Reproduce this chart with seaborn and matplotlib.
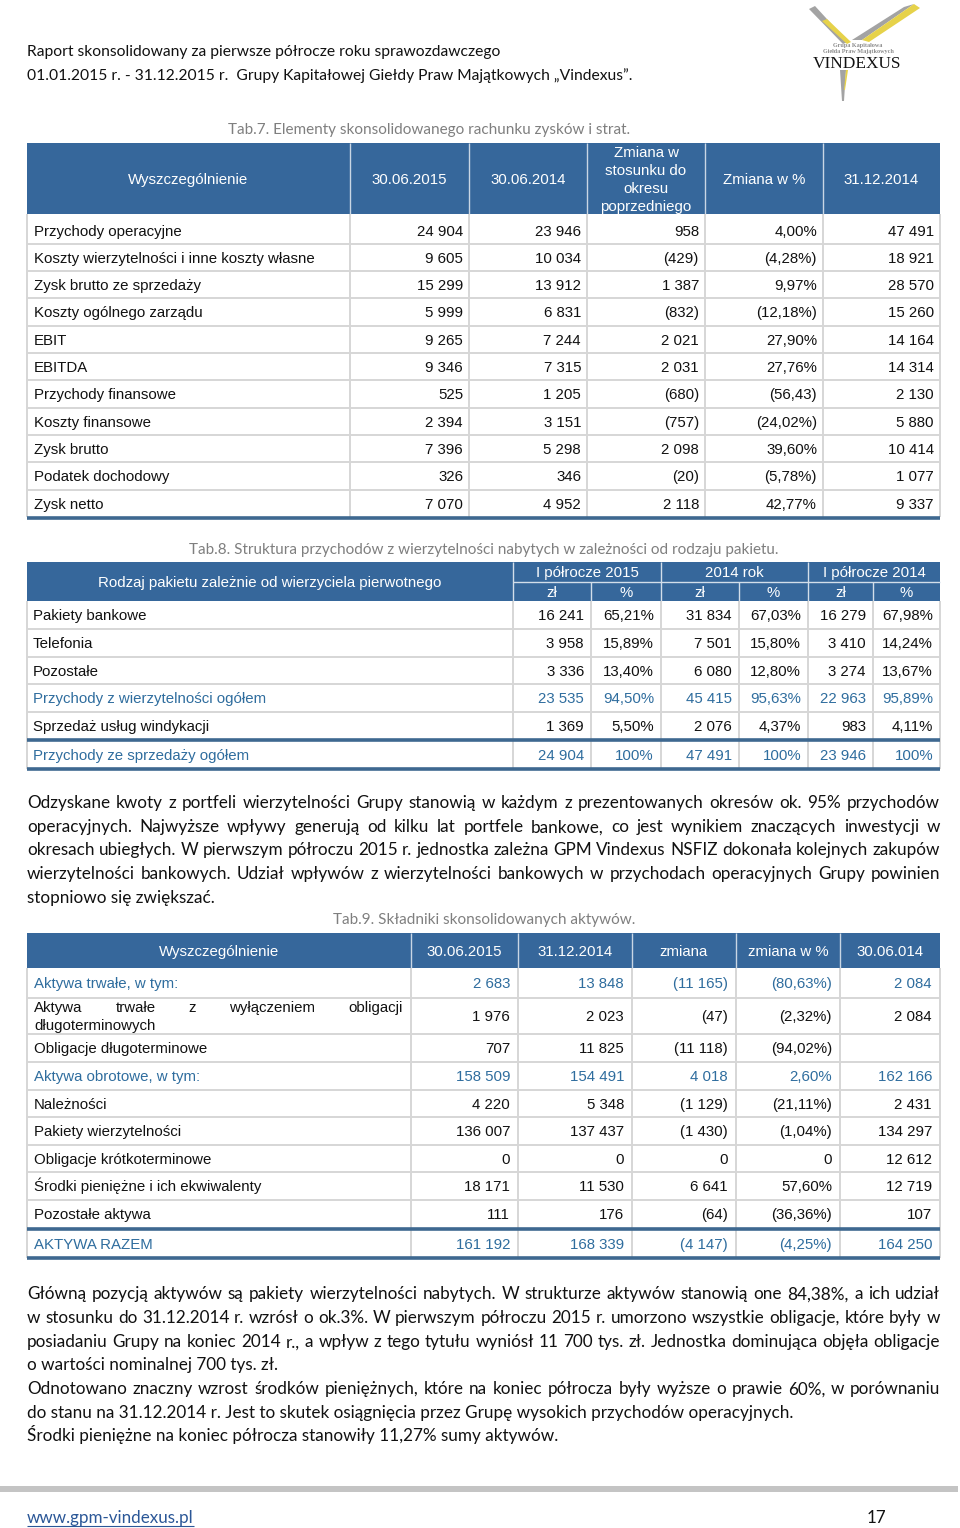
import matplotlib
matplotlib.use("Agg")
import matplotlib.pyplot as plt
import seaborn as sns
from matplotlib.patches import Rectangle, Polygon

sns.set_theme(style="white")
plt.rcParams['font.family'] = ['Liberation Sans', 'DejaVu Sans']

# ---------------- data ----------------
HEADER_LINES = [
    "Raport skonsolidowany za pierwsze półrocze roku sprawozdawczego",
    "01.01.2015 r. - 31.12.2015 r.  Grupy Kapitałowej Giełdy Praw Majątkowych \u201eVindexus\u201d.",
]
LOGO_TEXT = ["Grupa Kapitałowa", "Giełda Praw Majątkowych", "VINDEXUS"]

T7_CAPTION = "Tab.7. Elementy skonsolidowanego rachunku zysków i strat."
T7_HEAD = ["Wyszczególnienie", "30.06.2015", "30.06.2014",
           "Zmiana w\nstosunku do\nokresu\npoprzedniego", "Zmiana w %", "31.12.2014"]
T7_LABELS = ["Przychody operacyjne", "Koszty wierzytelności i inne koszty własne",
             "Zysk brutto ze sprzedaży", "Koszty ogólnego zarządu", "EBIT", "EBITDA",
             "Przychody finansowe", "Koszty finansowe", "Zysk brutto",
             "Podatek dochodowy", "Zysk netto"]
T7_2015 = ["24 904", "9 605", "15 299", "5 999", "9 265", "9 346", "525", "2 394", "7 396", "326", "7 070"]
T7_2014 = ["23 946", "10 034", "13 912", "6 831", "7 244", "7 315", "1 205", "3 151", "5 298", "346", "4 952"]
T7_CHANGE = ["958", "(429)", "1 387", "(832)", "2 021", "2 031", "(680)", "(757)", "2 098", "(20)", "2 118"]
T7_PCT = ["4,00%", "(4,28%)", "9,97%", "(12,18%)", "27,90%", "27,76%", "(56,43)", "(24,02%)",
          "39,60%", "(5,78%)", "42,77%"]
T7_DEC2014 = ["47 491", "18 921", "28 570", "15 260", "14 164", "14 314", "2 130", "5 880",
              "10 414", "1 077", "9 337"]

T8_CAPTION = "Tab.8. Struktura przychodów z wierzytelności nabytych w zależności od rodzaju pakietu."
T8_HEAD = "Rodzaj pakietu zależnie od wierzyciela pierwotnego"
T8_GROUPS = ["I półrocze 2015", "2014 rok", "I półrocze 2014"]
T8_SUB = ["zł", "%"]
T8_LABELS = ["Pakiety bankowe", "Telefonia", "Pozostałe", "Przychody z wierzytelności ogółem",
             "Sprzedaż usług windykacji", "Przychody ze sprzedaży ogółem"]
T8_H1_2015_PLN = ["16 241", "3 958", "3 336", "23 535", "1 369", "24 904"]
T8_H1_2015_PCT = ["65,21%", "15,89%", "13,40%", "94,50%", "5,50%", "100%"]
T8_Y2014_PLN = ["31 834", "7 501", "6 080", "45 415", "2 076", "47 491"]
T8_Y2014_PCT = ["67,03%", "15,80%", "12,80%", "95,63%", "4,37%", "100%"]
T8_H1_2014_PLN = ["16 279", "3 410", "3 274", "22 963", "983", "23 946"]
T8_H1_2014_PCT = ["67,98%", "14,24%", "13,67%", "95,89%", "4,11%", "100%"]
T8_HIGHLIGHT = [False, False, False, True, False, True]

PARA1 = [
    "Odzyskane kwoty  z portfeli wierzytelności Grupy stanowią w każdym z prezentowanych okresów ok. 95% przychodów",
    "operacyjnych. Najwyższe wpływy generują od kilku lat portfele bankowe, co jest wynikiem znaczących inwestycji w",
    "okresach ubiegłych. W pierwszym półroczu 2015 r. jednostka zależna GPM Vindexus NSFIZ dokonała kolejnych zakupów",
    "wierzytelności bankowych. Udział wpływów z wierzytelności bankowych w przychodach operacyjnych Grupy powinien",
    "stopniowo się zwiększać.",
]
PARA1_JUST = [True, True, True, True, False]

T9_CAPTION = "Tab.9. Składniki skonsolidowanych aktywów."
T9_HEAD = ["Wyszczególnienie", "30.06.2015", "31.12.2014", "zmiana", "zmiana w %", "30.06.014"]
T9_LABELS = ["Aktywa trwałe, w tym:", "Aktywa trwałe z wyłączeniem obligacji\ndługoterminowych",
             "Obligacje długoterminowe", "Aktywa obrotowe, w tym:", "Należności",
             "Pakiety wierzytelności", "Obligacje krótkoterminowe", "Środki pieniężne i ich ekwiwalenty",
             "Pozostałe aktywa", "AKTYWA RAZEM"]
T9_JUN2015 = ["2 683", "1 976", "707", "158 509", "4 220", "136 007", "0", "18 171", "111", "161 192"]
T9_DEC2014 = ["13 848", "2 023", "11 825", "154 491", "5 348", "137 437", "0", "11 530", "176", "168 339"]
T9_CHANGE = ["(11 165)", "(47)", "(11 118)", "4 018", "(1 129)", "(1 430)", "0", "6 641", "(64)", "(4 147)"]
T9_PCT = ["(80,63%)", "(2,32%)", "(94,02%)", "2,60%", "(21,11%)", "(1,04%)", "0", "57,60%",
          "(36,36%)", "(4,25%)"]
T9_JUN2014 = ["2 084", "2 084", "", "162 166", "2 431", "134 297", "12 612", "12 719", "107", "164 250"]
T9_HIGHLIGHT = [True, False, False, True, False, False, False, False, False, True]

PARA2 = [
    "Główną pozycją aktywów są pakiety wierzytelności nabytych. W strukturze aktywów stanowią one 84,38%, a ich udział",
    "w stosunku do 31.12.2014 r. wzrósł o ok.3%. W pierwszym półroczu 2015 r. umorzono wszystkie obligacje, które były w",
    "posiadaniu Grupy na koniec 2014 r., a wpływ z tego tytułu wyniósł 11 700 tys. zł. Jednostka dominująca objęła obligacje",
    "o wartości nominalnej 700 tys. zł.",
    "Odnotowano znaczny wzrost środków pieniężnych, które na koniec półrocza były wyższe o prawie 60%, w porównaniu",
    "do stanu na 31.12.2014 r. Jest to skutek osiągnięcia przez Grupę wysokich przychodów operacyjnych.",
    "Środki pieniężne na koniec półrocza stanowiły 11,27% sumy aktywów.",
]
PARA2_JUST = [True, True, True, False, True, False, False]

FOOTER_LINK = "www.gpm-vindexus.pl"
PAGE_NO = "17"

# ---------------- styles ----------------
BLUE_HEAD = "#36679b"
BLUE_TEXT = "#2f6d9e"
GRID = "#d6d6d6"
THICK = "#3e6890"
CAPTION_GRAY = "#7f7f7f"
TEXT = "#111111"
PARA_FONT = ['Lato', 'Liberation Sans', 'DejaVu Sans']
TABLE_FONT = ['Liberation Sans', 'DejaVu Sans']
LOGO_FONT = ['Liberation Serif', 'DejaVu Serif']

fig = plt.figure(figsize=(9.6, 15.28), dpi=100)
ax = fig.add_axes([0, 0, 1, 1])
ax.set_xlim(0, 960)
ax.set_ylim(1528, 0)
ax.axis('off')
renderer = fig.canvas.get_renderer()


def measure(s, family, size):
    t = ax.text(0, 0, s, fontsize=size, family=family)
    w = t.get_window_extent(renderer).width
    t.remove()
    return w


def fit(s, family, target):
    return 10 * target / measure(s, family, 10)


def px(size):
    return size * 100 / 72


def put(x, yc, s, family, size, color=TEXT, ha='left'):
    ax.text(x, yc + 0.36 * px(size), s, fontsize=size, family=family, color=color,
            ha=ha, va='baseline')


def justify(line, yc, x0, x1, family, size, color=TEXT):
    words = line.split()
    ws = [measure(w, family, size) for w in words]
    gap = (x1 - x0 - sum(ws)) / max(len(words) - 1, 1)
    x = x0
    for w, wd in zip(words, ws):
        put(x, yc, w, family, size, color)
        x += wd + gap


def hline(y, x0, x1, color=GRID, lw=1.4):
    ax.plot([x0, x1], [y, y], color=color, lw=lw, solid_capstyle='butt')


def vline(x, y0, y1, color=GRID, lw=1.4):
    ax.plot([x, x], [y0, y1], color=color, lw=lw, solid_capstyle='butt')


# font sizes calibrated on reference widths
S_HEAD = fit(HEADER_LINES[0], PARA_FONT, 475)
S_CAP = fit(T8_CAPTION, PARA_FONT, 589)
S_TAB = fit(T7_LABELS[1], TABLE_FONT, 280)
S_PARA = fit(PARA2[5], PARA_FONT, 765)
S_FOOT = fit(FOOTER_LINK, PARA_FONT, 167)

# ---------------- page header ----------------
for yc, line in zip([50, 74], HEADER_LINES):
    put(27, yc, line, PARA_FONT, S_HEAD)

# logo
ax.add_patch(Polygon([(809, 9), (815, 6), (848, 42), (843, 44)], closed=True, color="#a3a3a3", lw=0))
ax.add_patch(Polygon([(822, 21), (827, 19), (851, 42), (847, 44)], closed=True, color="#e6d24a", lw=0))
ax.add_patch(Polygon([(904, 7), (914, 4), (862, 40), (852, 40)], closed=True, color="#a3a3a3", lw=0))
ax.add_patch(Polygon([(914, 4), (920, 8), (869, 42), (862, 40)], closed=True, color="#e6d24a", lw=0))
ax.add_patch(Polygon([(840, 70), (846, 70), (844, 101), (842, 101)], closed=True, color="#a3a3a3", lw=0))
ax.add_patch(Polygon([(846, 70), (848, 70), (845, 90), (844, 90)], closed=True, color="#e6d24a", lw=0))
ax.text(858, 45, LOGO_TEXT[0], fontsize=4.4, family=LOGO_FONT, color="#8c8c8c",
        ha='center', va='center', fontweight='bold')
ax.text(858, 52, LOGO_TEXT[1], fontsize=4.4, family=LOGO_FONT, color="#8c8c8c",
        ha='center', va='center', fontweight='bold')
ax.text(857, 63.5, LOGO_TEXT[2], fontsize=fit(LOGO_TEXT[2], LOGO_FONT, 88), family=LOGO_FONT,
        color="#111111", ha='center', va='center')

# ---------------- Tab.7 ----------------
put(228, 129, T7_CAPTION, PARA_FONT, fit(T7_CAPTION, PARA_FONT, 402), CAPTION_GRAY)
t7_edges = [27, 350, 469, 587, 705, 823, 940]
t7_top, t7_hbot = 143, 214
ax.add_patch(Rectangle((27, t7_top), 913, t7_hbot - t7_top, color=BLUE_HEAD, lw=0))
for x in t7_edges[1:-1]:
    vline(x, t7_top, t7_hbot, color="#c9d6e4", lw=1.0)
for i, h in enumerate(T7_HEAD):
    xc = (t7_edges[i] + t7_edges[i + 1]) / 2
    lines = h.split("\n")
    n = len(lines)
    for k, ln in enumerate(lines):
        yc = 179 + (k - (n - 1) / 2) * 18
        put(xc, yc, ln, TABLE_FONT, S_TAB, "white", ha='center')

row_h = 27.3
y0 = 216.5
cols7 = [T7_2015, T7_2014, T7_CHANGE, T7_PCT, T7_DEC2014]
for r, lab in enumerate(T7_LABELS):
    top = y0 + r * row_h
    yc = top + row_h / 2
    put(34, yc, lab, TABLE_FONT, S_TAB)
    for c, col in enumerate(cols7):
        put(t7_edges[c + 2] - 6, yc, col[r], TABLE_FONT, S_TAB, ha='right')
    if r > 0:
        hline(top, 27, 940)
t7_bot = y0 + len(T7_LABELS) * row_h
for x in t7_edges:
    vline(x, t7_hbot, t7_bot)
hline(t7_bot + 1, 27, 940, color=THICK, lw=2.6)

# ---------------- Tab.8 ----------------
put(189, 549, T8_CAPTION, PARA_FONT, S_CAP, CAPTION_GRAY)
t8_edges = [27, 513, 591, 661, 739, 808, 873, 940]
t8_top, t8_mid, t8_hbot = 562, 582, 601
ax.add_patch(Rectangle((27, t8_top), 913, t8_hbot - t8_top, color=BLUE_HEAD, lw=0))
for x in [513, 661, 808]:
    vline(x, t8_top, t8_hbot, color="#d3deea", lw=1.0)
for x in [591, 739, 873]:
    vline(x, t8_mid, t8_hbot, color="#d3deea", lw=1.0)
hline(t8_mid, 513, 940, color="#d3deea", lw=1.0)
put((27 + 513) / 2, 582, T8_HEAD, TABLE_FONT, S_TAB, "white", ha='center')
for g, name in enumerate(T8_GROUPS):
    xa, xb = t8_edges[1 + 2 * g], t8_edges[3 + 2 * g]
    put((xa + xb) / 2, 572, name, TABLE_FONT, S_TAB, "white", ha='center')
    for s, sub in enumerate(T8_SUB):
        xs = (t8_edges[1 + 2 * g + s] + t8_edges[2 + 2 * g + s]) / 2
        put(xs, 592, sub, TABLE_FONT, S_TAB, "white", ha='center')

cols8 = [T8_H1_2015_PLN, T8_H1_2015_PCT, T8_Y2014_PLN, T8_Y2014_PCT, T8_H1_2014_PLN, T8_H1_2014_PCT]
t8_bounds = [601, 629, 656.5, 684, 711.5, 739, 769]
for r, lab in enumerate(T8_LABELS):
    top, bot = t8_bounds[r], t8_bounds[r + 1]
    yc = (top + bot) / 2 + (1 if r == 5 else 0)
    color = BLUE_TEXT if T8_HIGHLIGHT[r] else TEXT
    put(33, yc, lab, TABLE_FONT, S_TAB, color)
    for c, col in enumerate(cols8):
        put(t8_edges[c + 2] - 7, yc, col[r], TABLE_FONT, S_TAB, color, ha='right')
    if 0 < r < 5:
        hline(top, 27, 940)
for x in t8_edges:
    vline(x, t8_hbot, t8_bounds[-1])
hline(739.5, 27, 940, color=THICK, lw=2.6)
hline(768.5, 27, 940, color=THICK, lw=2.6)

# ---------------- paragraph 1 ----------------
for yc, line, j in zip([802, 826, 849, 873, 897], PARA1, PARA1_JUST):
    if j:
        justify(line, yc, 27, 940, PARA_FONT, S_PARA)
    else:
        put(27, yc, line, PARA_FONT, S_PARA)

# ---------------- Tab.9 ----------------
put(333, 919, T9_CAPTION, PARA_FONT, S_CAP, CAPTION_GRAY)
t9_edges = [27, 411, 518, 632, 736, 840, 940]
t9_top, t9_hbot = 933, 968
ax.add_patch(Rectangle((27, t9_top), 913, t9_hbot - t9_top, color=BLUE_HEAD, lw=0))
for x in t9_edges[1:-1]:
    vline(x, t9_top, t9_hbot, color="#c9d6e4", lw=1.0)
for i, h in enumerate(T9_HEAD):
    xc = (t9_edges[i] + t9_edges[i + 1]) / 2
    put(xc, 951, h, TABLE_FONT, S_TAB, "white", ha='center')

cols9 = [T9_JUN2015, T9_DEC2014, T9_CHANGE, T9_PCT, T9_JUN2014]
t9_bounds = [968, 998, 1034, 1062, 1090, 1117, 1145, 1172, 1200, 1228, 1258]
for r, lab in enumerate(T9_LABELS):
    top, bot = t9_bounds[r], t9_bounds[r + 1]
    yc = (top + bot) / 2 + (1 if r == 9 else 0)
    color = BLUE_TEXT if T9_HIGHLIGHT[r] else TEXT
    lines = lab.split("\n")
    if len(lines) == 2:
        justify(lines[0], yc - 9, 34, 403, TABLE_FONT, S_TAB, color)
        put(34, yc + 9, lines[1], TABLE_FONT, S_TAB, color)
    else:
        put(34, yc, lab, TABLE_FONT, S_TAB, color)
    for c, col in enumerate(cols9):
        put(t9_edges[c + 2] - 8, yc, col[r], TABLE_FONT, S_TAB, color, ha='right')
    if 0 < r < 9:
        hline(top, 27, 940)
for x in t9_edges:
    vline(x, t9_hbot, t9_bounds[-1])
hline(1228.5, 27, 940, color=THICK, lw=2.6)
hline(1257.5, 27, 940, color=THICK, lw=2.6)

# ---------------- paragraph 2 ----------------
for yc, line, j in zip([1293, 1317, 1341, 1364, 1388, 1412, 1435], PARA2, PARA2_JUST):
    if j:
        justify(line, yc, 27, 940, PARA_FONT, S_PARA)
    else:
        put(27, yc, line, PARA_FONT, S_PARA)

# ---------------- footer ----------------
ax.add_patch(Rectangle((0, 1486), 958, 6, color="#c4c4c4", lw=0))
put(27, 1517, FOOTER_LINK, PARA_FONT, S_FOOT, "#2b5797")
hline(1526, 27, 194, color="#2b5797", lw=0.8)
put(886, 1517, PAGE_NO, PARA_FONT, S_FOOT, TEXT, ha='right')

fig.savefig("out.png", dpi=100, facecolor="white")
